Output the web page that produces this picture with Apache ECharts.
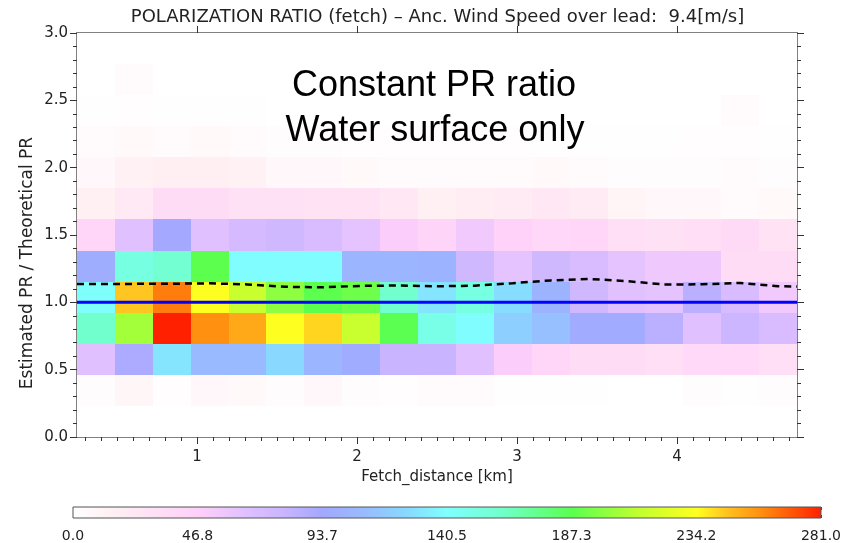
<!DOCTYPE html>
<html><head><meta charset="utf-8">
<script src="https://cdn.jsdelivr.net/npm/echarts@6/dist/echarts.min.js"></script>
<style>html,body{margin:0;padding:0;background:#fff}#c{width:844px;height:543px}</style>
</head><body><div id="c"></div>
<script>
// ---- data ----
const fetchEdges = [0.25, 0.4868, 0.7237, 0.9605, 1.1974, 1.4342, 1.6711, 1.9079, 2.1447, 2.3816,
                    2.6184, 2.8553, 3.0921, 3.3289, 3.5658, 3.8026, 4.0395, 4.2763, 4.5132, 4.75];
const ratioEdges = [0, 0.2308, 0.4615, 0.6923, 0.9231, 1.1538, 1.3846, 1.6154, 1.8462, 2.0769,
                    2.3077, 2.5385, 2.7692, 3.0];
// counts per ratio bin (bottom to top), one value per fetch bin
const counts00 = [0,0,0,0,0,0,0,0,0,0,0,0,0,0,0,0,0,0,0];
const counts01 = [3,9,2,8,6,3,8,3,2,5,4,1,1,1,0,0,3,1,3];
const counts02 = [65,90,130,108,108,125,105,97,80,80,65,50,42,35,35,32,38,38,32];
const counts03 = [160,205,281,258,252,234,242,215,187,150,140,120,112,96,96,85,65,78,70];
const counts04 = [142,245,262,234,215,200,188,192,160,130,152,127,103,75,65,62,85,70,55];
const counts05 = [98,152,158,188,140,140,140,105,105,103,75,62,75,70,62,56,56,35,35];
const counts06 = [42,65,93,65,72,75,70,62,50,43,55,45,40,42,32,30,33,37,28];
const counts07 = [15,22,35,35,30,30,28,28,24,15,18,20,24,20,10,8,8,4,6];
const counts08 = [8,14,16,16,14,8,8,6,5,5,4,5,6,4,3,3,3,5,3];
const counts09 = [5,6,4,6,5,3,3,2,2,2,2,2,1,1,1,1,2,2,1];
const counts10 = [1,2,1,1,1,0,0,0,0,0,0,0,0,0,0,0,0,4,0];
const counts11 = [0,4,0,0,0,0,0,0,0,0,0,0,0,0,0,0,0,0,0];
const counts12 = [0,0,0,0,0,0,0,0,0,0,0,0,0,0,0,0,0,0,0];
const countRows = [counts00,counts01,counts02,counts03,counts04,counts05,counts06,
                   counts07,counts08,counts09,counts10,counts11,counts12];

const meanFetch = [0.25,0.368,0.605,0.842,1.079,1.316,1.553,1.789,2.026,2.263,2.5,
                   2.737,2.974,3.211,3.447,3.684,3.921,4.158,4.395,4.632,4.75];
const meanRatio = [1.136,1.137,1.137,1.138,1.141,1.133,1.115,1.112,1.122,1.125,1.119,
                   1.124,1.142,1.163,1.174,1.158,1.132,1.134,1.144,1.120,1.117];
const refFetch = [0.25, 4.75];
const refRatio = [1.0, 1.0];

const xTickLabels = [1, 2, 3, 4];
const xMinorStep = 0.1;
const colorbarMax = 281.0;
const stopValues = [0, 15, 35, 46.8, 65, 80, 93.7, 110, 125, 140.5, 162, 187.3, 212, 234.2, 246, 258, 281];
const stopColors = ['#ffffff','#fff0f3','#ffdcf6','#ffd0fa','#e0c0ff','#c8b4ff','#a2a8ff','#98bcff',
                    '#88d8ff','#80ffff','#70ffc8','#5aff50','#c0ff30','#ffff20','#ffc020','#ff9010','#ff2000'];

// ---- helpers ----
function hex2rgb(h){return [parseInt(h.substr(1,2),16),parseInt(h.substr(3,2),16),parseInt(h.substr(5,2),16)];}
function colorFor(v){
  if (v <= stopValues[0]) return stopColors[0];
  for (let i = 1; i < stopValues.length; i++) {
    if (v <= stopValues[i]) {
      const t = (v - stopValues[i-1]) / (stopValues[i] - stopValues[i-1]);
      const a = hex2rgb(stopColors[i-1]), b = hex2rgb(stopColors[i]);
      return 'rgb(' + a.map((c,k)=>Math.round(c + (b[k]-c)*t)).join(',') + ')';
    }
  }
  return stopColors[stopColors.length-1];
}
const cells = [];
countRows.forEach((row, r) => row.forEach((v, c) => {
  cells.push([fetchEdges[c], fetchEdges[c+1], ratioEdges[r], ratioEdges[r+1], v]);
}));
const xMinor = [];
for (let v = fetchEdges[0]; v < fetchEdges[fetchEdges.length-1]; v += xMinorStep) {
  const m = Math.round(Math.ceil((v + 1e-9) / xMinorStep) * xMinorStep * 10) / 10;
  if (!xMinor.includes(m) && m > fetchEdges[0] && m < fetchEdges[fetchEdges.length-1] && !xTickLabels.includes(m)) xMinor.push(m);
}

const FONT = 'DejaVu Sans';
const axisLineStyle = { color: '#808080', width: 2 };
const tickStyle = { color: '#333', width: 1 };

const chart = echarts.init(document.getElementById('c'), null, { renderer: 'canvas' });
chart.setOption({
  backgroundColor: '#ffffff',
  animation: false,
  grid: [
    { left: 77, right: 47, top: 33, bottom: 106, show: true, backgroundColor: '#fffbfc', borderWidth: 0 },
    { left: 73, right: 21, top: 507, height: 11, show: false }
  ],
  xAxis: [
    { gridIndex: 0, type: 'value', position: 'bottom', min: fetchEdges[0], max: fetchEdges[fetchEdges.length-1],
      axisLine: { show: true, onZero: false, lineStyle: axisLineStyle },
      axisTick: { show: true, length: 7, customValues: xTickLabels, lineStyle: tickStyle },
      axisLabel: { customValues: xTickLabels, fontSize: 15, margin: 13, color: '#222', fontFamily: FONT },
      splitLine: { show: false },
      name: 'Fetch_distance [km]', nameLocation: 'middle', nameGap: 31,
      nameTextStyle: { fontSize: 15, color: '#222', fontFamily: FONT } },
    { gridIndex: 0, type: 'value', position: 'top', min: fetchEdges[0], max: fetchEdges[fetchEdges.length-1],
      axisLine: { show: true, onZero: false, lineStyle: axisLineStyle },
      axisTick: { show: true, length: 7, customValues: xTickLabels, lineStyle: tickStyle },
      axisLabel: { show: false }, splitLine: { show: false } },
    { gridIndex: 0, type: 'value', position: 'bottom', min: fetchEdges[0], max: fetchEdges[fetchEdges.length-1],
      axisLine: { show: false }, axisTick: { show: true, length: 4, customValues: xMinor, lineStyle: tickStyle },
      axisLabel: { show: false }, splitLine: { show: false } },
    { gridIndex: 0, type: 'value', position: 'top', min: fetchEdges[0], max: fetchEdges[fetchEdges.length-1],
      axisLine: { show: false }, axisTick: { show: true, length: 4, customValues: xMinor, lineStyle: tickStyle },
      axisLabel: { show: false }, splitLine: { show: false } },
    { gridIndex: 1, type: 'value', position: 'bottom', min: 0, max: colorbarMax, interval: colorbarMax / 6,
      axisLine: { show: false },
      axisTick: { show: true, inside: true, length: 3, lineStyle: { color: '#444' } },
      minorTick: { show: true, splitNumber: 2, length: 3, lineStyle: { color: '#444' } },
      axisLabel: { formatter: v => v.toFixed(1), fontSize: 14, margin: 11, color: '#222', fontFamily: FONT },
      splitLine: { show: false } },
    { gridIndex: 1, type: 'value', position: 'top', min: 0, max: colorbarMax, interval: colorbarMax / 6,
      axisLine: { show: false },
      axisTick: { show: true, inside: true, length: 3, lineStyle: { color: '#444' } },
      minorTick: { show: true, splitNumber: 2, length: 3, lineStyle: { color: '#444' } },
      axisLabel: { show: false }, splitLine: { show: false } }
  ],
  yAxis: [
    { gridIndex: 0, type: 'value', position: 'left', min: 0, max: 3, interval: 0.5,
      axisLine: { show: true, onZero: false, lineStyle: axisLineStyle },
      axisTick: { show: true, length: 7, lineStyle: tickStyle },
      minorTick: { show: true, splitNumber: 5, length: 4, lineStyle: tickStyle },
      axisLabel: { formatter: v => v.toFixed(1), fontSize: 15, margin: 9, color: '#222', fontFamily: FONT },
      splitLine: { show: false } },
    { gridIndex: 0, type: 'value', position: 'right', min: 0, max: 3, interval: 0.5,
      axisLine: { show: true, onZero: false, lineStyle: axisLineStyle },
      axisTick: { show: true, length: 7, lineStyle: tickStyle },
      minorTick: { show: true, splitNumber: 5, length: 4, lineStyle: tickStyle },
      axisLabel: { show: false }, splitLine: { show: false } },
    { gridIndex: 1, type: 'value', min: 0, max: 1, show: false }
  ],
  series: [
    { type: 'custom', xAxisIndex: 0, yAxisIndex: 0, data: cells, encode: { x: [0, 1], y: [2, 3] },
      z: 1,
      renderItem: function (params, api) {
        const p0 = api.coord([api.value(0), api.value(3)]);
        const p1 = api.coord([api.value(1), api.value(2)]);
        const x0 = Math.round(p0[0]), y0 = Math.round(p0[1]), x1 = Math.round(p1[0]), y1 = Math.round(p1[1]);
        return { type: 'rect', shape: { x: x0, y: y0, width: x1 - x0, height: y1 - y0 },
                 style: { fill: colorFor(api.value(4)) } };
      } },
    { type: 'line', xAxisIndex: 0, yAxisIndex: 0, z: 3, symbol: 'none',
      data: refFetch.map((x, i) => [x, refRatio[i]]),
      lineStyle: { color: '#0000ff', width: 3 } },
    { type: 'line', xAxisIndex: 0, yAxisIndex: 0, z: 4, symbol: 'none',
      data: meanFetch.map((x, i) => [x, meanRatio[i]]),
      lineStyle: { color: '#000000', width: 2.5, type: [7, 5] } },
    { type: 'custom', xAxisIndex: 4, yAxisIndex: 2, data: [[0, colorbarMax]], encode: { x: [0, 1] },
      renderItem: function (params, api) {
        const p0 = api.coord([api.value(0), 1]);
        const p1 = api.coord([api.value(1), 0]);
        const stops = stopValues.map((v, i) => ({ offset: v / colorbarMax, color: stopColors[i] }));
        return { type: 'rect', shape: { x: p0[0], y: p0[1], width: p1[0] - p0[0], height: p1[1] - p0[1] },
                 style: { fill: new echarts.graphic.LinearGradient(0, 0, 1, 0, stops), stroke: '#555', lineWidth: 1 } };
      } }
  ],
  graphic: [
    { type: 'text', x: 437.5, y: 17, z: 10,
      style: { text: 'POLARIZATION RATIO (fetch) – Anc. Wind Speed over lead:  9.4[m/s]',
               fontSize: 18, fontFamily: FONT, fill: '#222', align: 'center', verticalAlign: 'middle' } },
    { type: 'text', x: 28, y: 263, rotation: Math.PI / 2, z: 10,
      style: { text: 'Estimated PR / Theoretical PR', fontSize: 17, fontFamily: FONT, fill: '#222',
               align: 'center', verticalAlign: 'middle' } },
    { type: 'text', x: 434, y: 86, z: 10,
      style: { text: 'Constant PR ratio', fontSize: 36, fontFamily: 'Liberation Sans', fill: '#000',
               align: 'center', verticalAlign: 'middle' } },
    { type: 'text', x: 435, y: 131, z: 10,
      style: { text: 'Water surface only', fontSize: 36, fontFamily: 'Liberation Sans', fill: '#000',
               align: 'center', verticalAlign: 'middle' } }
  ]
});
</script></body></html>
